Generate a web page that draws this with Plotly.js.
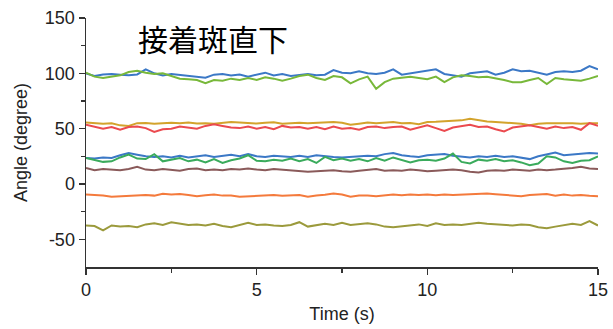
<!DOCTYPE html>
<html><head><meta charset="utf-8">
<script src="https://cdn.plot.ly/plotly-3.0.1.min.js"></script>
<style>html,body{margin:0;padding:0;background:#fff}#chart{width:613px;height:329px}</style>
</head><body><div id="chart"></div>
<script>
const time = [0,0.25,0.5,0.75,1,1.25,1.5,1.75,2,2.25,2.5,2.75,3,3.25,3.5,3.75,4,4.25,4.5,4.75,5,5.25,5.5,5.75,6,6.25,6.5,6.75,7,7.25,7.5,7.75,8,8.25,8.5,8.75,9,9.25,9.5,9.75,10,10.25,10.5,10.75,11,11.25,11.5,11.75,12,12.25,12.5,12.75,13,13.25,13.5,13.75,14,14.25,14.5,14.75,15];

const blue1 = [100,97.6,99,99.4,98.8,98.2,99,103.6,100,98,99.4,98.5,98,97,96,98.8,99.4,98,99,97,98.8,100.6,98,99.4,97.6,98.8,99.4,98.2,98.8,103,100.6,100,101.8,100,99.4,100.6,103.6,98.8,100,100.6,101.8,103.6,99.4,98.2,97,100,100.6,101.8,98.8,100.6,103.6,101.8,102.4,100.6,98.8,101.2,101.8,101.2,102.4,106.6,103.6];
const green1 = [100.6,97,95.8,97,98.2,101.2,102.4,100.6,99.4,100,97.6,95.2,94.6,94,91,94,93.4,95.2,94,95.8,94,96.4,95.2,93.4,95.2,97.6,98.8,95.8,94,97.6,96.4,91,94.6,97,86,92,95.2,96.4,97,95.8,94.6,97,92,96.4,98.2,97.6,96.4,97,95.8,94,92,92,94,95.8,90.3,95.8,94.6,94,93.3,95.2,97.6];
const gold = [55.5,55,54.5,54.8,53,52.5,55,55.2,54.5,55,55.3,54.8,55.5,54.6,55,54.5,55.2,56,55.5,55,54.6,55.4,55.8,54.5,55,55.3,54.8,55.2,55.5,56,55.4,53.5,54.5,55.6,55,55.5,56,54.8,55.2,54,56,56.2,56.5,57,57.5,59,57.5,56.5,56,55.5,55,54.5,53,54.5,55,54.6,54.8,55,54.5,55,54.8];
const red = [53.5,52,50,51.5,49,51.5,52,50.5,47,49.5,50,52,51,50,52.5,54,52.5,51,50.5,52,50,51.5,49.5,52.5,51,51.5,50,51.5,49.5,52,50,50.5,49,51.5,52,50.5,51.5,52,49,51,53,50.5,48,51,52,53.5,51.5,52,49.5,47.5,51,52,53,51.5,50,52,50.5,51.5,49,55,52.5];
const blue2 = [23.5,23,24,23.5,26,28,26.5,25,24.5,25,24,25.5,24,25,26,24.5,25.5,26.5,25,27,25,24.5,25.5,25,24.5,25.5,24.5,26,25,24.5,24,24.5,25,25.5,25,27,28,26,25,24.5,26,26.5,27,25.5,24.5,24,25,24.5,25.5,24.5,25,23.5,22.5,25,27,28.5,26,26.5,27,28,27.5];
const green2 = [23.5,22,20,20.5,24,26.5,23,22.5,27,20.5,22,23.5,20.5,22,19.5,22.5,19,21.5,23,26,21,20.5,22,21,23,20.5,22.5,19,24.5,21.5,23,21,22.5,20.5,23.5,21,24,22,19.5,21.5,22,21,23,27.5,20,18.5,22,21,22.5,20.5,21.5,19.5,17,18.5,25,24,20.5,19,21,21.5,25];
const brown = [14.5,12.5,13.5,13,12.5,13.5,15.5,13,12.5,13.5,13,12,13.5,14,12.5,13,12.5,13.5,13,14,13,12.5,13.5,13,12.5,12,11,11.5,12,12.5,11.5,11,12,12.5,13.5,12,12.5,12,13,12.5,11.5,12,12.5,13,12.5,11,10.5,12,12.5,12,13,12.5,12,13,12.5,13,13.5,14.5,15.5,14,13.5];
const orange = [-9.5,-9.8,-10.5,-11.5,-11,-10.5,-10.2,-10,-10.5,-8.8,-9.5,-9,-10,-11,-10.2,-9.5,-10.5,-10.3,-11.5,-11,-10.5,-10.2,-10,-10.6,-10.5,-10,-11.5,-10.3,-9.8,-8.7,-9.5,-11.5,-10.5,-10.3,-11,-10,-9.5,-10.2,-9.4,-10,-9.5,-10.2,-9.6,-10,-9.7,-9.5,-9.2,-8.6,-9.2,-9.8,-10.3,-11,-10,-9.5,-9,-10.5,-9.6,-10.5,-10,-10.6,-11];
const olive = [-37.5,-38,-42,-37.5,-38.5,-38,-39,-36.5,-35.5,-37,-34.5,-36,-37,-36.5,-37.5,-36,-38,-39,-37,-35,-37,-36.5,-37.5,-38,-37,-34.5,-38.5,-37,-36,-37,-35,-37,-36,-35.5,-36.5,-38.5,-39,-38,-37,-36.5,-38,-35.5,-37,-36.5,-37,-36,-35,-36,-36.5,-37,-37.5,-36.5,-37,-39,-40,-38.5,-37.5,-36,-37,-33.5,-37.5];

const seriesList = [blue1, green1, gold, red, blue2, green2, brown, orange, olive];
const seriesColors = ['#3b78c6','#78b83a','#d3a32c','#eb4a4f','#3b78c6','#3aab5c','#8a5a5a','#f47a3c','#9b9a3c'];

const yTickVals = [-50, 0, 50, 100, 150];
const yTickText = ['-50', '0', '50', '100', '150'];
const xTickVals = [0, 5, 10, 15];
const xTickText = ['0', '5', '10', '15'];

const titleText = '接着斑直下';
const xTitle = 'Time (s)';
const yTitle = 'Angle (degree)';

const traces = seriesList.map((s, i) => ({
  x: time, y: s, type: 'scatter', mode: 'lines',
  line: {color: seriesColors[i], width: 2},
  hoverinfo: 'skip'
}));

const axisFont = {family: 'Liberation Sans, Arial, sans-serif', size: 18, color: '#222'};

const layout = {
  width: 613, height: 329,
  margin: {l: 86, r: 15, t: 18, b: 62},
  paper_bgcolor: '#fff', plot_bgcolor: '#fff',
  showlegend: false,
  font: axisFont,
  xaxis: {
    range: [0, 15], showgrid: false, zeroline: false,
    showline: true, linecolor: '#333', linewidth: 1.5,
    ticks: 'outside', ticklen: 6, tickwidth: 1.5, tickcolor: '#333',
    tickvals: xTickVals, ticktext: xTickText, tickfont: axisFont,
    minor: {tickvals: [2.5, 7.5, 12.5], ticks: 'outside', ticklen: 4, tickwidth: 1.5, tickcolor: '#333', showgrid: false},
    title: {text: xTitle, font: axisFont, standoff: 8}
  },
  yaxis: {
    range: [-75, 150], showgrid: false, zeroline: false,
    showline: true, linecolor: '#333', linewidth: 1.5,
    ticks: 'outside', ticklen: 6, tickwidth: 1.5, tickcolor: '#333',
    tickvals: yTickVals, ticktext: yTickText, tickfont: axisFont,
    minor: {tickvals: [-25, 25, 75, 125], ticks: 'outside', ticklen: 4, tickwidth: 1.5, tickcolor: '#333', showgrid: false},
    title: {text: yTitle, font: axisFont, standoff: 12}
  },
  annotations: [{
    text: titleText, xref: 'paper', yref: 'paper', x: 0.248, y: 0.92,
    xanchor: 'center', yanchor: 'middle', showarrow: false,
    font: {family: 'Noto Sans CJK JP, sans-serif', size: 30, color: '#000'}
  }]
};

Plotly.newPlot('chart', traces, layout, {staticPlot: true, displayModeBar: false});
</script></body></html>
